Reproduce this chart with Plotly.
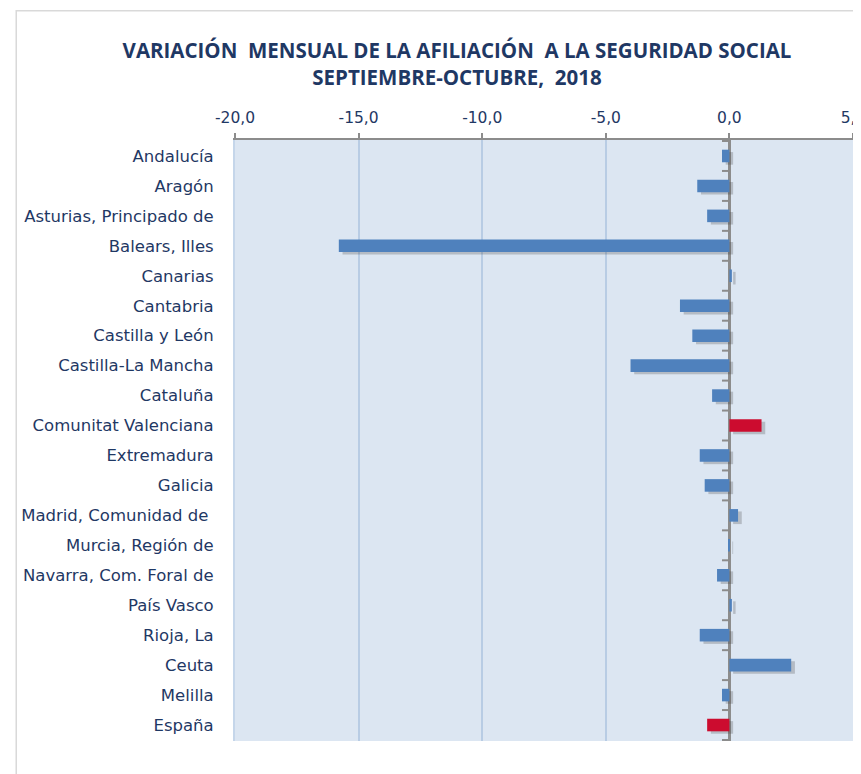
import plotly.graph_objects as go

categories = ["Andalucía", "Aragón", "Asturias, Principado de", "Balears, Illes", "Canarias",
              "Cantabria", "Castilla y León", "Castilla-La Mancha", "Cataluña",
              "Comunitat Valenciana", "Extremadura", "Galicia", "Madrid, Comunidad de ",
              "Murcia, Región de", "Navarra, Com. Foral de", "País Vasco", "Rioja, La",
              "Ceuta", "Melilla", "España"]
values = [-0.3, -1.3, -0.9, -15.8, 0.1, -2.0, -1.5, -4.0, -0.7, 1.3,
          -1.2, -1.0, 0.35, -0.03, -0.5, 0.1, -1.2, 2.5, -0.3, -0.9]
highlight = ["Comunitat Valenciana", "España"]
tick_vals = [-20, -15, -10, -5, 0, 5]
tick_text = [f"{v:.1f}".replace(".", ",") for v in tick_vals]

BLUE = "#4f81bd"
RED = "#cc0c2f"
NAVY = "#1f3864"
LABEL_FONT = "DejaVu Sans"

colors = [RED if c in highlight else BLUE for c in categories]

fig = go.Figure()
# soft drop shadow
fig.add_trace(go.Bar(
    y=categories, x=values, orientation="h", base=0.15,
    marker=dict(color="rgba(60,60,60,0.25)", line=dict(width=0)),
    width=0.42, offset=-0.13, showlegend=False, hoverinfo="skip",
))
fig.add_trace(go.Bar(
    y=categories, x=values, orientation="h",
    marker=dict(color=colors, line=dict(width=0)),
    width=0.42, offset=-0.21, showlegend=False,
))

shapes = []
# category tick marks on zero line
for i in range(len(categories) + 1):
    shapes.append(dict(type="line", xref="x", yref="y", x0=-0.3, x1=0,
                       y0=i - 0.5, y1=i - 0.5, line=dict(color="#8c8c8c", width=2), layer="above"))
# outer chart frame
shapes.append(dict(type="rect", xref="paper", yref="paper", x0=-0.354, x1=1.1,
                   y0=-0.2, y1=1.215, line=dict(color="#d9d9d9", width=1.5), layer="below"))

fig.update_layout(
    width=861, height=774,
    margin=dict(l=227, r=16, t=132, b=41),
    paper_bgcolor="white",
    plot_bgcolor="#dce6f2",
    barmode="overlay",
    font=dict(family=LABEL_FONT, color=NAVY, size=14),
    title=dict(
        text="<b>VARIACIÓN  MENSUAL DE LA AFILIACIÓN  A LA SEGURIDAD SOCIAL<br>SEPTIEMBRE-OCTUBRE,  2018</b>",
        x=0.5215, xanchor="center", xref="container",
        y=0.935, yanchor="middle", yref="container",
        font=dict(family="Open Sans", size=20.5, color=NAVY),
    ),
    xaxis=dict(
        range=[-20, 5], side="top", tickvals=tick_vals, ticktext=tick_text,
        showgrid=True, gridcolor="#b8cce4", gridwidth=1.5,
        zeroline=True, zerolinecolor="#8c8c8c", zerolinewidth=2.5,
        showline=True, linecolor="#8c8c8c", linewidth=2, mirror=False,
        ticks="outside", ticklen=5, tickcolor="#8c8c8c", tickwidth=1.5,
        ticklabelstandoff=4,
        tickfont=dict(family=LABEL_FONT, size=15.5, color=NAVY),
        automargin=False, fixedrange=True,
    ),
    yaxis=dict(
        autorange="reversed", type="category",
        showgrid=False, ticks="", ticklabelstandoff=16,
        tickfont=dict(family=LABEL_FONT, size=16.5, color=NAVY),
        showline=True, linecolor="#c5d6ea", linewidth=2,
        automargin=False,
    ),
    shapes=shapes,
)

fig.write_html("out.html")
